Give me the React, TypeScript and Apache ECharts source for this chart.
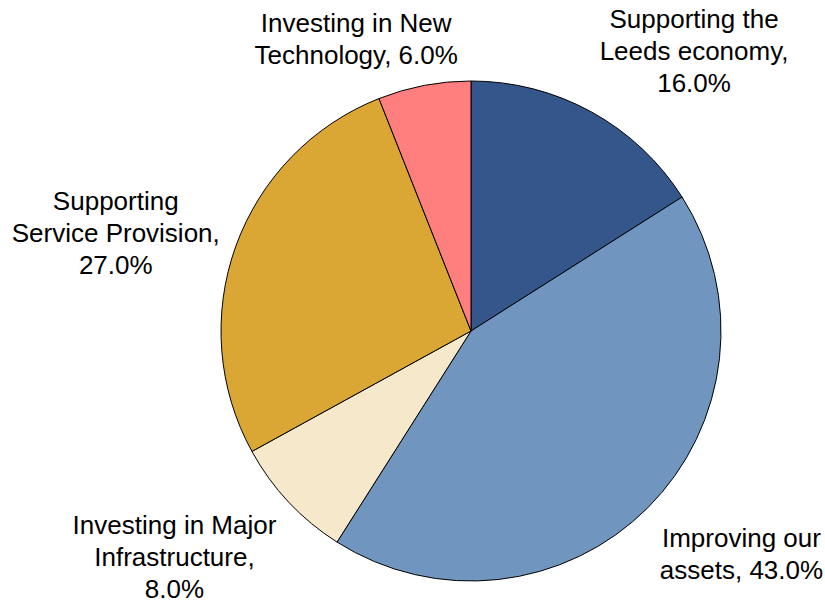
import React, { useEffect, useRef } from "react";
import * as echarts from "echarts";

const CATEGORIES = [
  "Supporting the\nLeeds economy",
  "Improving our\nassets",
  "Investing in Major\nInfrastructure",
  "Supporting\nService Provision",
  "Investing in New\nTechnology",
];
const VALUES = [16, 43, 8, 27, 6];
const PCT_ON_NEW_LINE = [true, false, true, true, false];
const COLORS = ["#34568B", "#7096C0", "#F6E8CB", "#DBA734", "#FF7F7F"];

const WIDTH = 825;
const HEIGHT = 605;
const CX = 471;
const CY = 331;
const RADIUS = 250;
const LABEL_GAP = 17;

export default function App() {
  const ref = useRef<HTMLDivElement>(null);
  useEffect(() => {
    document.body.style.margin = "0";
    if (!ref.current) return;
    const chart = echarts.init(ref.current, null, { renderer: "svg" });
    const total = VALUES.reduce((a, b) => a + b, 0);
    const cum: number[] = [];
    let acc = 0;
    VALUES.forEach((v) => {
      cum.push(acc);
      acc += v;
    });
    const clamp = (v: number) => Math.max(-1, Math.min(1, v));
    chart.setOption({
      animation: false,
      backgroundColor: "#ffffff",
      series: [
        {
          type: "pie",
          center: [CX, CY],
          radius: RADIUS,
          startAngle: 90,
          clockwise: true,
          avoidLabelOverlap: false,
          data: CATEGORIES.map((name, i) => ({
            name,
            value: VALUES[i],
            itemStyle: { color: COLORS[i] },
          })),
          itemStyle: { borderColor: "#000000", borderWidth: 1 },
          emphasis: { disabled: true },
          label: {
            show: true,
            position: "outside",
            overflow: "none",
            fontFamily: "Liberation Sans, Arial, sans-serif",
            fontSize: 26,
            lineHeight: 32,
            color: "#000000",
            align: "center",
            formatter: (p: any) => {
              const pct = ((p.value / total) * 100).toFixed(1) + "%";
              return p.name + (PCT_ON_NEW_LINE[p.dataIndex] ? ",\n" : ", ") + pct;
            },
          },
          labelLine: { show: false },
          labelLayout: (params: any) => {
            const i = params.dataIndex;
            const frac = (cum[i] + VALUES[i] / 2) / total;
            const th = frac * Math.PI * 2;
            const dx = Math.sin(th);
            const dy = -Math.cos(th);
            const R = RADIUS + LABEL_GAP;
            const px = CX + dx * R;
            const py = CY + dy * R;
            const w = params.labelRect.width;
            const h = params.labelRect.height;
            const sx = clamp(3.4 * dx);
            const sy = clamp(2.5 * dy - Math.sign(dy) * 0.65);
            let x = px + (sx * w) / 2;
            let y = py + (sy * h) / 2 + 2;
            x = Math.max(w / 2, Math.min(WIDTH - w / 2, x));
            y = Math.max(h / 2, Math.min(HEIGHT - h / 2, y));
            return { x, y, align: "center", verticalAlign: "middle" };
          },
        },
      ],
    });
    return () => chart.dispose();
  }, []);
  return <div ref={ref} style={{ width: WIDTH, height: HEIGHT }} />;
}
